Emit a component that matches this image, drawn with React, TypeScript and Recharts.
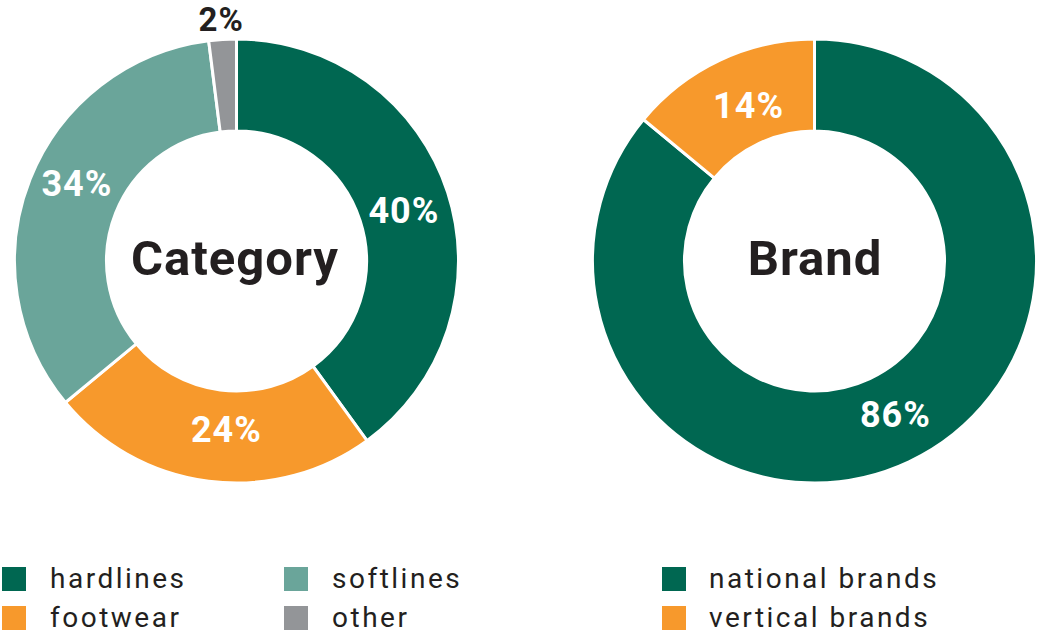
import React from "react";
import { PieChart, Pie, Cell } from "recharts";

const categoryNames = ["hardlines", "footwear", "softlines", "other"];
const categoryValues = [40, 24, 34, 2];
const categoryColors = ["#006751", "#F7992C", "#6AA59A", "#939598"];

const brandNames = ["national brands", "vertical brands"];
const brandValues = [86, 14];
const brandColors = ["#006751", "#F7992C"];

const chartTitles = ["Category", "Brand"];

const categoryData = categoryNames.map((name, i) => ({ name, value: categoryValues[i] }));
const brandData = brandNames.map((name, i) => ({ name, value: brandValues[i] }));

// small label nudges (style only), keyed by slice name
const labelNudge: Record<string, [number, number]> = {
  hardlines: [0, 4],
  footwear: [12, -6],
  softlines: [4, -12],
  other: [0, 2],
  "national brands": [6, -5],
  "vertical brands": [9, 4],
};

const RADIAN = Math.PI / 180;
const FONT = "Roboto, 'DejaVu Sans', sans-serif";

const makeLabel = (outsideIndex: number) => (props: any) => {
  const { cx, cy, midAngle, innerRadius, outerRadius, value, index, name } = props;
  const outside = index === outsideIndex;
  const r = outside ? outerRadius + 22 : (innerRadius + outerRadius) / 2;
  const [dx, dy] = labelNudge[name] || [0, 0];
  const x = cx + r * Math.cos(-midAngle * RADIAN) + dx;
  const y = cy + r * Math.sin(-midAngle * RADIAN) + dy;
  return (
    <text
      x={x}
      y={y}
      fill={outside ? "#231F20" : "#FFFFFF"}
      textAnchor="middle"
      dominantBaseline="central"
      fontFamily={FONT}
      fontWeight={700}
      fontSize={outside ? 33 : 36}
      letterSpacing={1}
    >
      {`${value}%`}
    </text>
  );
};

const centerText: React.CSSProperties = {
  position: "absolute",
  width: 260,
  marginLeft: -130,
  height: 60,
  marginTop: -30,
  lineHeight: "60px",
  textAlign: "center",
  fontFamily: FONT,
  fontWeight: 700,
  fontSize: 49,
  letterSpacing: 1,
  color: "#231F20",
};

const legendText: React.CSSProperties = {
  position: "absolute",
  fontFamily: FONT,
  fontSize: 28,
  lineHeight: "28px",
  letterSpacing: 2.5,
  color: "#231F20",
  whiteSpace: "nowrap",
};

const LegendItem = ({ x, y, color, label, tx }: { x: number; y: number; color: string; label: string; tx: number }) => (
  <>
    <div style={{ position: "absolute", left: x, top: y, width: 24, height: 24, background: color }} />
    <div style={{ ...legendText, left: tx, top: y - 2 }}>{label}</div>
  </>
);

export default function App() {
  return (
    <div style={{ position: "absolute", left: 0, top: 0, width: 1038, height: 636, background: "#fff" }}>
      <PieChart width={1038} height={540} margin={{ top: 0, right: 0, bottom: 0, left: 0 }}>
        <Pie
          data={categoryData}
          dataKey="value"
          nameKey="name"
          cx={236.5}
          cy={261}
          innerRadius={130}
          outerRadius={222}
          startAngle={90}
          endAngle={-270}
          stroke="#FFFFFF"
          strokeWidth={3}
          label={makeLabel(3)}
          labelLine={false}
          isAnimationActive={false}
        >
          {categoryData.map((d, i) => (
            <Cell key={d.name} fill={categoryColors[i]} />
          ))}
        </Pie>
        <Pie
          data={brandData}
          dataKey="value"
          nameKey="name"
          cx={814.5}
          cy={261}
          innerRadius={130}
          outerRadius={222}
          startAngle={90}
          endAngle={-270}
          stroke="#FFFFFF"
          strokeWidth={3}
          label={makeLabel(-1)}
          labelLine={false}
          isAnimationActive={false}
        >
          {brandData.map((d, i) => (
            <Cell key={d.name} fill={brandColors[i]} />
          ))}
        </Pie>
      </PieChart>
      <div style={{ ...centerText, left: 235, top: 259 }}>{chartTitles[0]}</div>
      <div style={{ ...centerText, left: 815, top: 259 }}>{chartTitles[1]}</div>
      <LegendItem x={2} y={567} color={categoryColors[0]} label={categoryNames[0]} tx={50} />
      <LegendItem x={2} y={606} color={categoryColors[1]} label={categoryNames[1]} tx={50} />
      <LegendItem x={284} y={567} color={categoryColors[2]} label={categoryNames[2]} tx={332} />
      <LegendItem x={284} y={606} color={categoryColors[3]} label={categoryNames[3]} tx={332} />
      <LegendItem x={662} y={567} color={brandColors[0]} label={brandNames[0]} tx={709} />
      <LegendItem x={662} y={606} color={brandColors[1]} label={brandNames[1]} tx={709} />
    </div>
  );
}
